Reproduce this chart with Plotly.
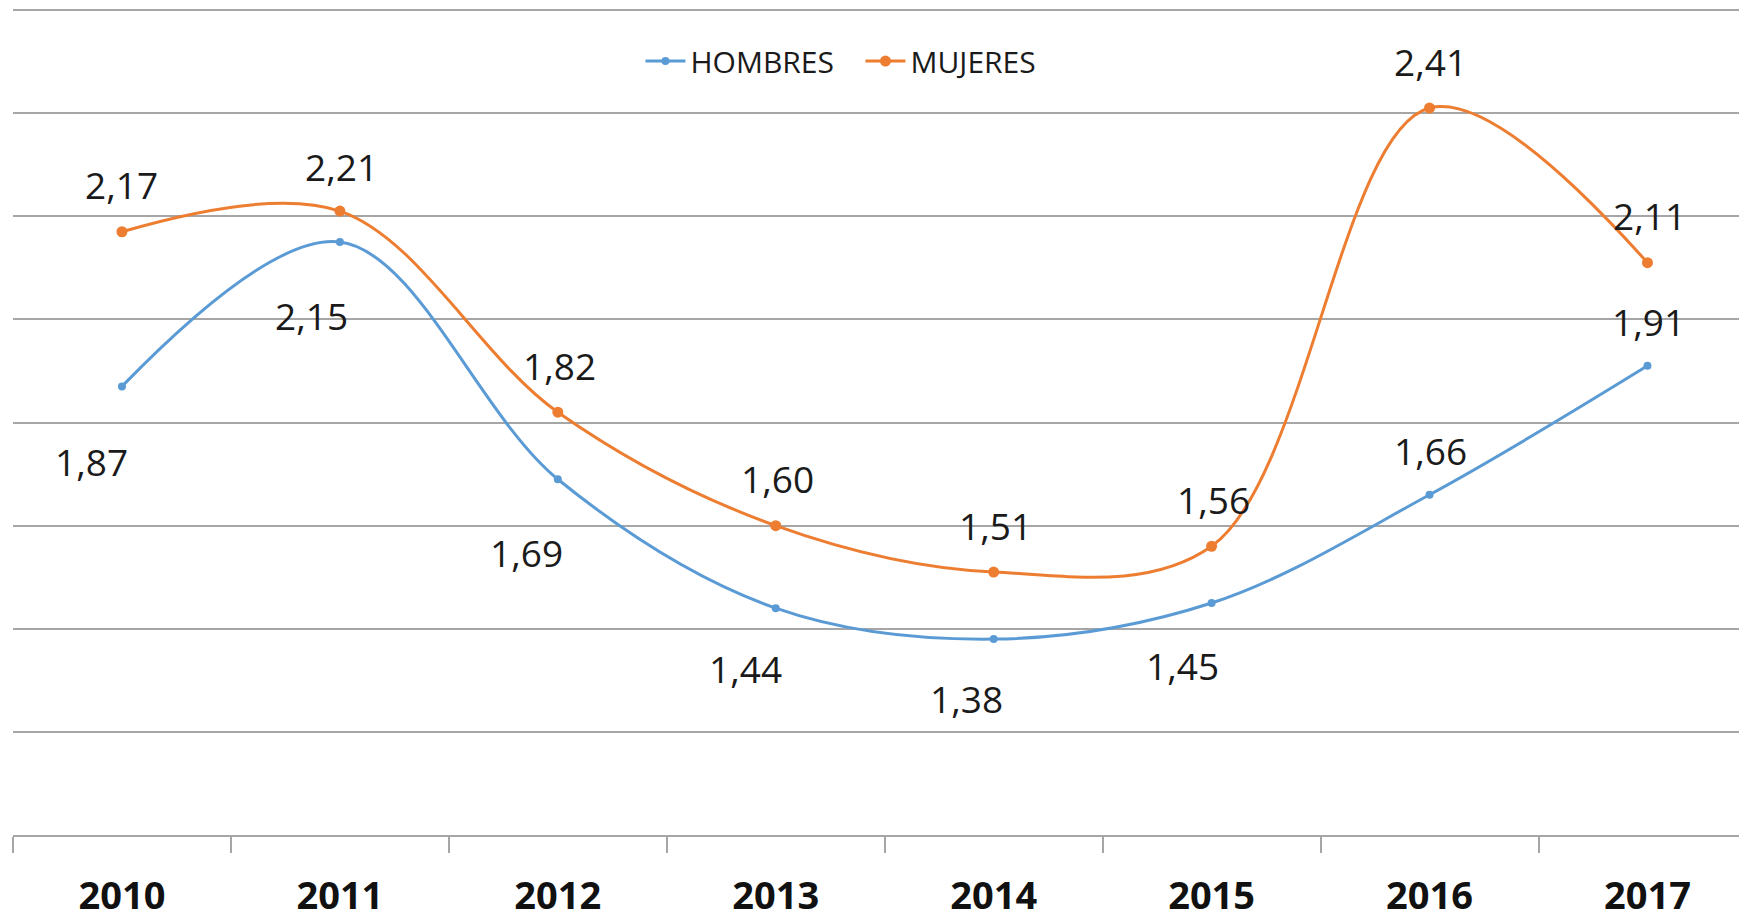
import plotly.graph_objects as go

years = ["2010", "2011", "2012", "2013", "2014", "2015", "2016", "2017"]
hombres = [1.87, 2.15, 1.69, 1.44, 1.38, 1.45, 1.66, 1.91]
mujeres = [2.17, 2.21, 1.82, 1.60, 1.51, 1.56, 2.41, 2.11]

BLUE = "#5B9BD5"
ORANGE = "#ED7D31"
FONT = "Open Sans"

# label offsets in px (Excel placed some labels below, some above)
hom_dx = [-30, -28, -31, -30, -27, -29, 1, 1]
hom_dy = [-75, -73, -73, -60, -59, -63, 44, 44]
muj_dx = [0, 2, 2, 2, 2, 2, 1, 2]
muj_dy = [47, 45, 47, 47, 47, 47, 47, 47]

fig = go.Figure()
fig.add_trace(go.Scatter(
    x=years, y=hombres, name="HOMBRES", mode="lines+markers",
    line=dict(color=BLUE, width=3, shape="spline", smoothing=1),
    marker=dict(size=8, color=BLUE),
))
fig.add_trace(go.Scatter(
    x=years, y=mujeres, name="MUJERES", mode="lines+markers",
    line=dict(color=ORANGE, width=3, shape="spline", smoothing=1),
    marker=dict(size=11, color=ORANGE),
))

annotations = []
for vals, dxs, dys in [(hombres, hom_dx, hom_dy), (mujeres, muj_dx, muj_dy)]:
    for i, (v, dx, dy) in enumerate(zip(vals, dxs, dys)):
        annotations.append(dict(
            x=i, y=v, xref="x", yref="y",
            text=f"{v:.2f}".replace(".", ","), showarrow=False,
            xshift=dx, yshift=dy,
            font=dict(family=FONT, size=37, color="#1a1a1a"),
        ))

fig.update_layout(
    width=1739, height=923,
    margin=dict(l=13, r=0, t=9, b=88),
    plot_bgcolor="white", paper_bgcolor="white",
    annotations=annotations,
    legend=dict(
        orientation="h", x=0.491, y=0.937, xanchor="center", yanchor="middle",
        font=dict(family=FONT, size=30, color="#1a1a1a"),
        itemwidth=40, entrywidth=165, bgcolor="rgba(0,0,0,0)",
    ),
    xaxis=dict(
        # the original chart's last category runs past the right edge
        type="category", range=[-0.5, 7.42], automargin=False,
        showgrid=False, showline=True, linecolor="#a6a6a6", linewidth=1.5,
        ticks="outside", tickson="boundaries", ticklen=16, tickcolor="#a6a6a6",
        tickwidth=1.5, ticklabelstandoff=27,
        tickfont=dict(family=FONT, size=38, color="#111111", weight="bold"),
    ),
    yaxis=dict(
        range=[1.0, 2.602], dtick=0.2, tick0=1.0, automargin=False,
        showgrid=True, gridcolor="#a6a6a6", gridwidth=1.5,
        showticklabels=False, zeroline=False, showline=False,
    ),
)

# drop the default body margin so the figure fills the window exactly
fig.write_html(
    "out.html",
    config={"displayModeBar": False},
    post_script="document.body.style.margin='0';document.body.style.overflow='hidden';",
)
